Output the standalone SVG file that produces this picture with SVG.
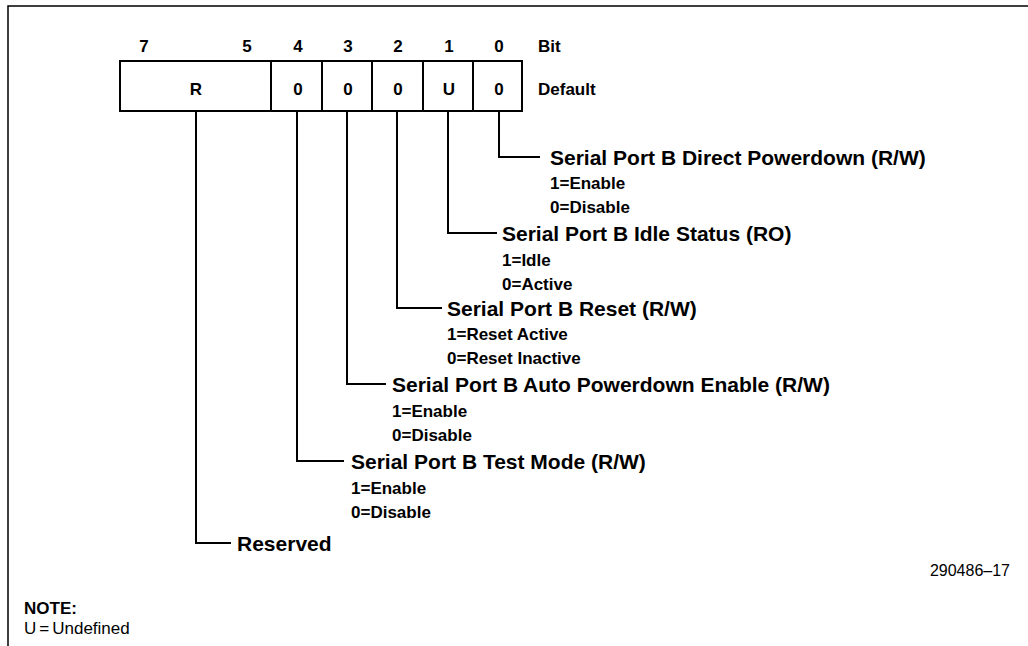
<svg xmlns="http://www.w3.org/2000/svg" width="1028" height="646" viewBox="0 0 1028 646">
<style>
.t{font-family:"Liberation Sans",Arial,sans-serif;font-weight:bold;fill:#000}
.h{font-size:21px}
.s{font-size:17px}
.c{font-size:17px;text-anchor:middle}
.n{font-family:"Liberation Sans",Arial,sans-serif;font-size:16px;fill:#000}
.ln{fill:none;stroke:#000;stroke-width:2}
.box{fill:#fff;stroke:#000;stroke-width:2}
</style>
<rect width="1028" height="646" fill="#fff"/>
<g id="frame"><path d="M8 646 V6 H1028" fill="none" stroke="#000" stroke-width="1.5"/></g>
<g id="register">
<rect class="box" x="120" y="61" width="402" height="50"/>
<path class="ln" d="M271 61V111M322 61V111M372 61V111M423 61V111M473 61V111"/>
<text class="t c" x="144" y="52">7</text>
<text class="t c" x="247" y="52">5</text>
<text class="t c" x="298" y="52">4</text>
<text class="t c" x="348" y="52">3</text>
<text class="t c" x="398" y="52">2</text>
<text class="t c" x="449" y="52">1</text>
<text class="t c" x="499" y="52">0</text>
<text class="t s" x="538" y="52">Bit</text>
<text class="t c" x="196" y="95">R</text>
<text class="t c" x="298" y="95">0</text>
<text class="t c" x="348" y="95">0</text>
<text class="t c" x="398" y="95">0</text>
<text class="t c" x="449" y="95">U</text>
<text class="t c" x="499" y="95">0</text>
<text class="t s" x="538" y="95">Default</text>
</g>
<g id="connectors">
<path class="ln" d="M499 111V157H540"/>
<path class="ln" d="M448 111V233H497"/>
<path class="ln" d="M397 111V308H442"/>
<path class="ln" d="M347 111V384H386"/>
<path class="ln" d="M297 111V461H344"/>
<path class="ln" d="M196 111V543H231"/>
</g>
<g id="bit0">
<text class="t h" x="550" y="165">Serial Port B Direct Powerdown (R/W)</text>
<text class="t s" x="550" y="189">1=Enable</text>
<text class="t s" x="550" y="213">0=Disable</text>
</g>
<g id="bit1">
<text class="t h" x="502" y="241">Serial Port B Idle Status (RO)</text>
<text class="t s" x="502" y="266">1=Idle</text>
<text class="t s" x="502" y="290">0=Active</text>
</g>
<g id="bit2">
<text class="t h" x="447" y="316">Serial Port B Reset (R/W)</text>
<text class="t s" x="447" y="340">1=Reset Active</text>
<text class="t s" x="447" y="364">0=Reset Inactive</text>
</g>
<g id="bit3">
<text class="t h" x="392" y="392">Serial Port B Auto Powerdown Enable (R/W)</text>
<text class="t s" x="392" y="417">1=Enable</text>
<text class="t s" x="392" y="441">0=Disable</text>
</g>
<g id="bit4">
<text class="t h" x="351" y="469">Serial Port B Test Mode (R/W)</text>
<text class="t s" x="351" y="494">1=Enable</text>
<text class="t s" x="351" y="518">0=Disable</text>
</g>
<g id="reserved">
<text class="t h" x="237" y="551">Reserved</text>
</g>
<g id="figno"><text class="n" x="1010" y="576" text-anchor="end">290486–17</text></g>
<g id="note">
<text class="t s" x="24" y="614">NOTE:</text>
<text class="n" x="24" y="634" style="font-size:17px">U<tspan dx="3">=</tspan><tspan dx="3">Undefined</tspan></text>
</g>
</svg>
